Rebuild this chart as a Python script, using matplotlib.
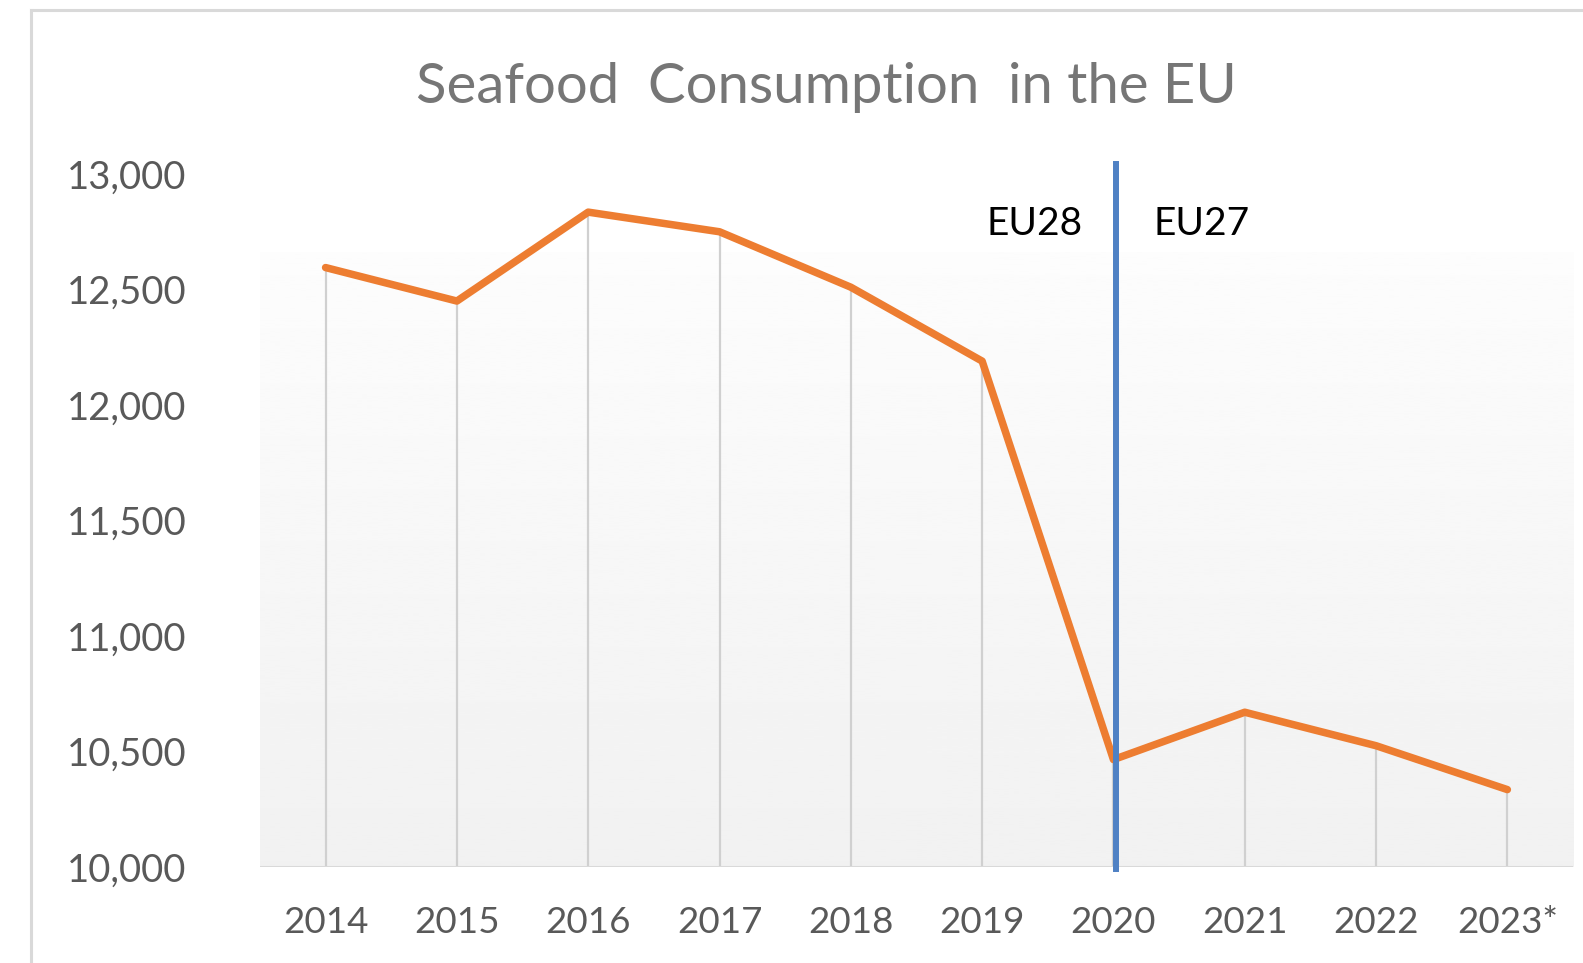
import numpy as np
import matplotlib.pyplot as plt
from matplotlib.lines import Line2D

plt.rcParams['font.family'] = ['Lato', 'DejaVu Sans']

# ---------------------------
# data
# ---------------------------
years = ["2014", "2015", "2016", "2017", "2018", "2019", "2020", "2021", "2022", "2023*"]
consumption = [12595, 12450, 12835, 12750, 12510, 12190, 10465, 10670, 10525, 10335]
y_ticks = [10000, 10500, 11000, 11500, 12000, 12500, 13000]
split_index = 6  # EU28 -> EU27 change at 2020

fig = plt.figure(figsize=(15.83, 9.63), dpi=100)
ax = fig.add_axes([0.1642, 0.0997, 0.8295, 0.7196])

x = np.arange(len(years))

# light gradient background behind the plot area (white top -> light grey bottom)
grad = np.linspace(0.99, 0.945, 256).reshape(-1, 1)
ax.imshow(grad, cmap="gray", vmin=0, vmax=1, aspect="auto",
          extent=[-0.5, len(years) - 0.5, 10000, 12660], zorder=0)

# drop lines from every point to the axis
ax.vlines(x, 10000, consumption, color="#d0d0d0", linewidth=1.6, zorder=1)
ax.axhline(10000, color="#d9d9d9", linewidth=2.2, zorder=1)

ax.plot(x, consumption, color="#ed7d31", linewidth=5.4, solid_joinstyle="round",
        solid_capstyle="round", zorder=3)

# EU28 / EU27 divider
ax.plot([split_index + 0.02, split_index + 0.02], [9990, 13045], color="#4f81c4",
        linewidth=4.3, clip_on=False, zorder=4)
ax.text(split_index - 0.6, 12785, "EU28", fontsize=28, color="black", ha="center", va="center")
ax.text(split_index + 0.67, 12785, "EU27", fontsize=28, color="black", ha="center", va="center")

ax.set_xlim(-0.5, len(years) - 0.5)
ax.set_ylim(10000, 13000)
ax.set_xticks(x)
ax.set_xticklabels(years)
ax.set_yticks(y_ticks)
ax.set_yticklabels([f"{v:,}" for v in y_ticks])
ax.tick_params(length=0, labelsize=26.5, labelcolor="#595959")
ax.tick_params(axis="y", labelsize=27.5)
ax.tick_params(axis="x", pad=28)
ax.tick_params(axis="y", pad=53)
for s in ax.spines.values():
    s.set_visible(False)

fig.text(0.522, 0.909, "Seafood  Consumption  in the EU", fontsize=40.5, color="#767676",
         ha="center", va="center")

# outer chart frame (left and top edges visible)
fig.add_artist(Line2D([31 / 1583, 31 / 1583], [0, 1 - 10 / 963], transform=fig.transFigure,
                      color="#d9d9d9", linewidth=2.2))
fig.add_artist(Line2D([31 / 1583, 1], [1 - 10 / 963, 1 - 10 / 963], transform=fig.transFigure,
                      color="#d9d9d9", linewidth=2.2))

fig.savefig("out.png", dpi=100)
